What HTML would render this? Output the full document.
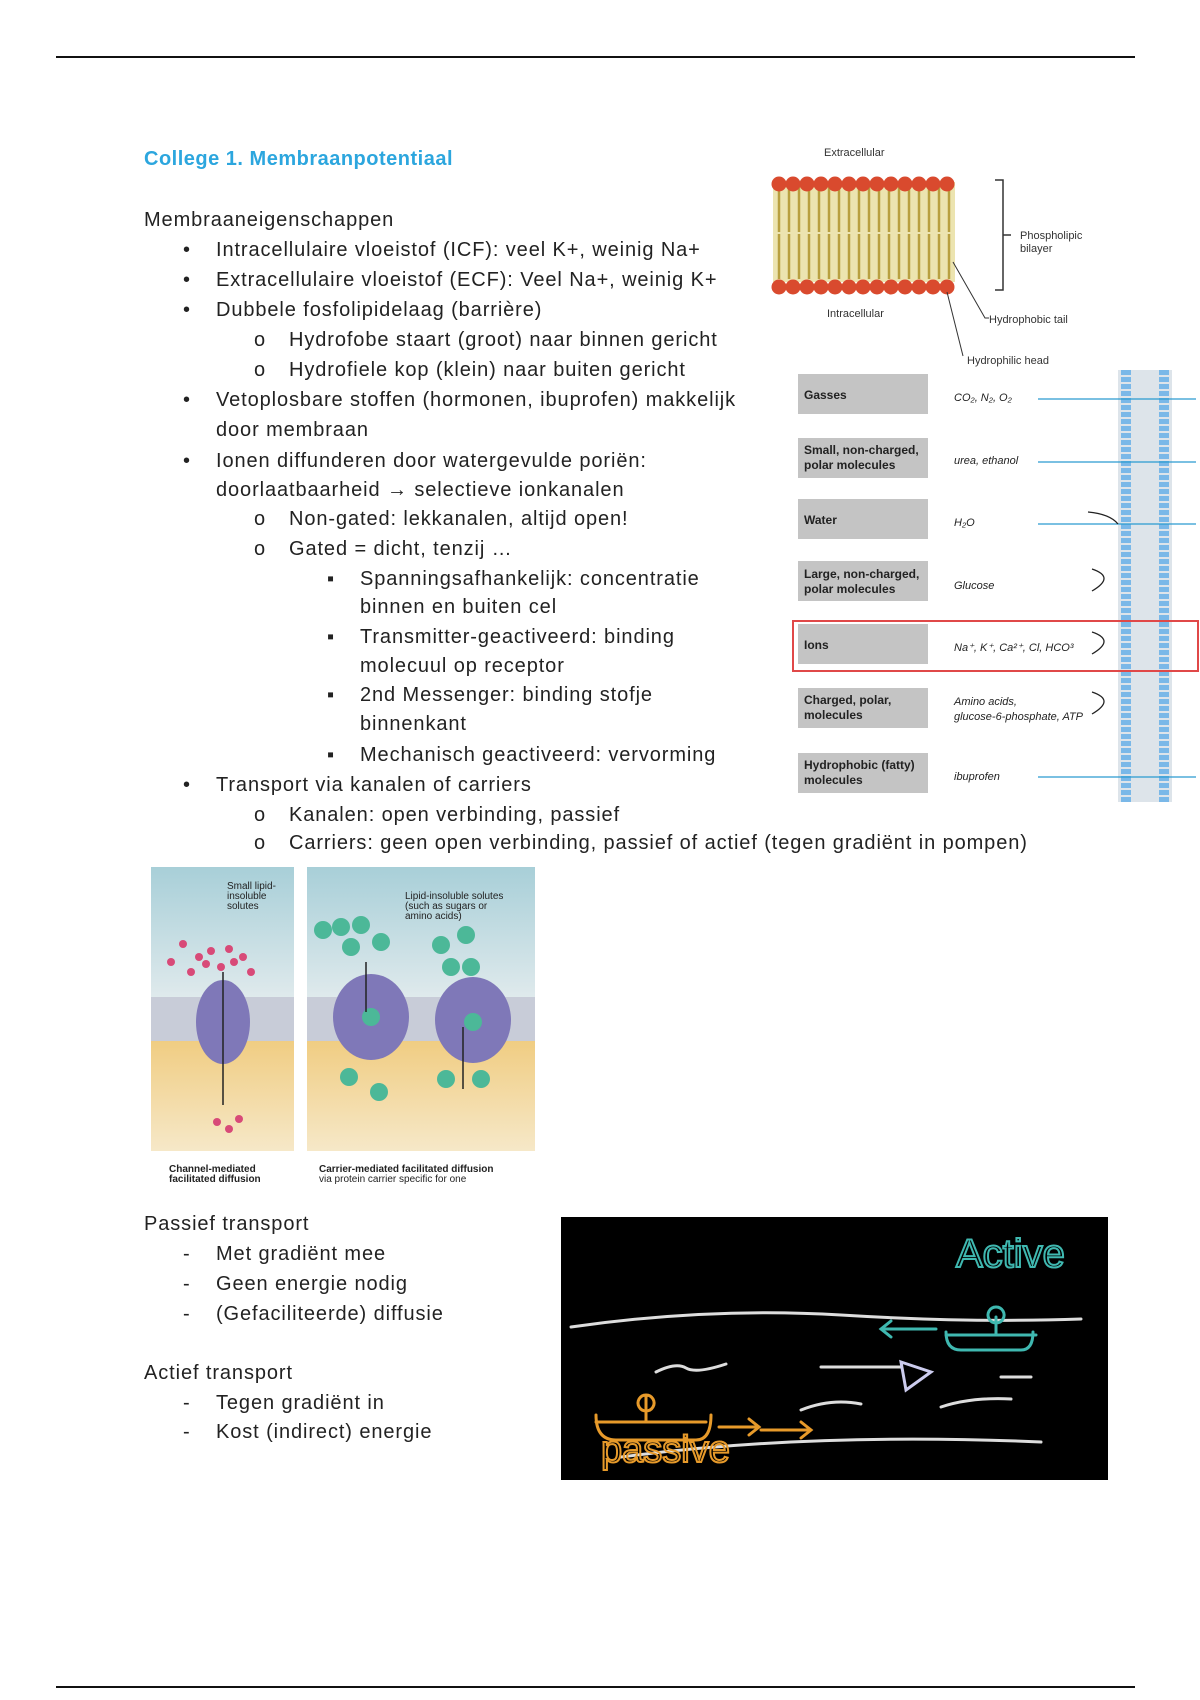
<!DOCTYPE html>
<html><head><meta charset="utf-8"><style>
body{margin:0;background:#fff;width:1200px;height:1700px;position:relative;overflow:hidden;font-family:"Liberation Sans",sans-serif;color:#222}
.t{position:absolute;font-size:20px;letter-spacing:0.9px;white-space:nowrap;line-height:20px;margin-top:2px}
.hr{position:absolute;left:56px;width:1079px;height:2px;background:#111}
</style></head><body>
<div class="hr" style="top:56px"></div>
<div class="hr" style="top:1686px"></div>
<div class="t" style="left:144px;top:147px;color:#2ca6de;font-weight:bold;font-size:20px;letter-spacing:0.5px">College 1. Membraanpotentiaal</div>
<div class="t" style="left:144px;top:208px">Membraaneigenschappen</div>
<div class="t" style="left:183px;top:238px">•</div><div class="t" style="left:216px;top:238px">Intracellulaire vloeistof (ICF): veel K+, weinig Na+</div>
<div class="t" style="left:183px;top:268px">•</div><div class="t" style="left:216px;top:268px">Extracellulaire vloeistof (ECF): Veel Na+, weinig K+</div>
<div class="t" style="left:183px;top:298px">•</div><div class="t" style="left:216px;top:298px">Dubbele fosfolipidelaag (barrière)</div>
<div class="t" style="left:254px;top:328px">o</div><div class="t" style="left:289px;top:328px">Hydrofobe staart (groot) naar binnen gericht</div>
<div class="t" style="left:254px;top:358px">o</div><div class="t" style="left:289px;top:358px">Hydrofiele kop (klein) naar buiten gericht</div>
<div class="t" style="left:183px;top:388px">•</div><div class="t" style="left:216px;top:388px">Vetoplosbare stoffen (hormonen, ibuprofen) makkelijk</div>
<div class="t" style="left:216px;top:418px">door membraan</div>
<div class="t" style="left:183px;top:449px">•</div><div class="t" style="left:216px;top:449px">Ionen diffunderen door watergevulde poriën:</div>
<div class="t" style="left:216px;top:478px">doorlaatbaarheid → selectieve ionkanalen</div>
<div class="t" style="left:254px;top:507px">o</div><div class="t" style="left:289px;top:507px">Non-gated: lekkanalen, altijd open!</div>
<div class="t" style="left:254px;top:537px">o</div><div class="t" style="left:289px;top:537px">Gated = dicht, tenzij …</div>
<div class="t" style="left:327px;top:567px">▪</div><div class="t" style="left:360px;top:567px">Spanningsafhankelijk: concentratie</div>
<div class="t" style="left:360px;top:595px">binnen en buiten cel</div>
<div class="t" style="left:327px;top:625px">▪</div><div class="t" style="left:360px;top:625px">Transmitter-geactiveerd: binding</div>
<div class="t" style="left:360px;top:654px">molecuul op receptor</div>
<div class="t" style="left:327px;top:683px">▪</div><div class="t" style="left:360px;top:683px">2nd Messenger: binding stofje</div>
<div class="t" style="left:360px;top:712px">binnenkant</div>
<div class="t" style="left:327px;top:743px">▪</div><div class="t" style="left:360px;top:743px">Mechanisch geactiveerd: vervorming</div>
<div class="t" style="left:183px;top:773px">•</div><div class="t" style="left:216px;top:773px">Transport via kanalen of carriers</div>
<div class="t" style="left:254px;top:803px">o</div><div class="t" style="left:289px;top:803px">Kanalen: open verbinding, passief</div>
<div class="t" style="left:254px;top:831px">o</div><div class="t" style="left:289px;top:831px">Carriers: geen open verbinding, passief of actief (tegen gradiënt in pompen)</div>

<div class="t" style="left:144px;top:1212px">Passief transport</div>
<div class="t" style="left:183px;top:1242px">-</div><div class="t" style="left:216px;top:1242px">Met gradiënt mee</div>
<div class="t" style="left:183px;top:1272px">-</div><div class="t" style="left:216px;top:1272px">Geen energie nodig</div>
<div class="t" style="left:183px;top:1302px">-</div><div class="t" style="left:216px;top:1302px">(Gefaciliteerde) diffusie</div>
<div class="t" style="left:144px;top:1361px">Actief transport</div>
<div class="t" style="left:183px;top:1391px">-</div><div class="t" style="left:216px;top:1391px">Tegen gradiënt in</div>
<div class="t" style="left:183px;top:1420px">-</div><div class="t" style="left:216px;top:1420px">Kost (indirect) energie</div>

<!-- bilayer -->
<svg style="position:absolute;left:767px;top:142px" width="340" height="225" font-family="Liberation Sans" font-size="11" fill="#333">
<text x="57" y="14">Extracellular</text>
<rect x="6" y="40" width="182" height="100" fill="#ece4b0"/>
<g stroke="#b8a040" stroke-width="2.5" fill="none">
<path d="M12 45 v45 M22 45 v45 M32 45 v45 M42 45 v45 M52 45 v45 M62 45 v45 M72 45 v45 M82 45 v45 M92 45 v45 M102 45 v45 M112 45 v45 M122 45 v45 M132 45 v45 M142 45 v45 M152 45 v45 M162 45 v45 M172 45 v45 M182 45 v45"/>
<path d="M12 92 v45 M22 92 v45 M32 92 v45 M42 92 v45 M52 92 v45 M62 92 v45 M72 92 v45 M82 92 v45 M92 92 v45 M102 92 v45 M112 92 v45 M122 92 v45 M132 92 v45 M142 92 v45 M152 92 v45 M162 92 v45 M172 92 v45 M182 92 v45"/>
</g>
<g fill="#d94a2e">
<circle cx="12" cy="42" r="7.5"/><circle cx="26" cy="42" r="7.5"/><circle cx="40" cy="42" r="7.5"/><circle cx="54" cy="42" r="7.5"/><circle cx="68" cy="42" r="7.5"/><circle cx="82" cy="42" r="7.5"/><circle cx="96" cy="42" r="7.5"/><circle cx="110" cy="42" r="7.5"/><circle cx="124" cy="42" r="7.5"/><circle cx="138" cy="42" r="7.5"/><circle cx="152" cy="42" r="7.5"/><circle cx="166" cy="42" r="7.5"/><circle cx="180" cy="42" r="7.5"/>
<circle cx="12" cy="145" r="7.5"/><circle cx="26" cy="145" r="7.5"/><circle cx="40" cy="145" r="7.5"/><circle cx="54" cy="145" r="7.5"/><circle cx="68" cy="145" r="7.5"/><circle cx="82" cy="145" r="7.5"/><circle cx="96" cy="145" r="7.5"/><circle cx="110" cy="145" r="7.5"/><circle cx="124" cy="145" r="7.5"/><circle cx="138" cy="145" r="7.5"/><circle cx="152" cy="145" r="7.5"/><circle cx="166" cy="145" r="7.5"/><circle cx="180" cy="145" r="7.5"/>
</g>
<path d="M228 38 h8 v110 h-8 M236 93 h8" stroke="#333" fill="none" stroke-width="1.5"/>
<text x="60" y="175">Intracellular</text>
<text x="253" y="97">Phospholipic</text><text x="253" y="110">bilayer</text>
<path d="M186 120 L218 176 h4 M180 150 L196 214" stroke="#333" fill="none"/>
<text x="222" y="181">Hydrophobic tail</text>
<text x="200" y="222">Hydrophilic head</text>
</svg>

<!-- permeability table -->
<svg style="position:absolute;left:788px;top:366px" width="412" height="440" font-family="Liberation Sans" font-size="12" fill="#222">
<g fill="#c4c4c4">
<rect x="10" y="8" width="130" height="40"/><rect x="10" y="72" width="130" height="40"/><rect x="10" y="133" width="130" height="40"/><rect x="10" y="195" width="130" height="40"/><rect x="10" y="258" width="130" height="40"/><rect x="10" y="322" width="130" height="40"/><rect x="10" y="387" width="130" height="40"/>
</g>
<g font-weight="bold" font-size="12">
<text x="16" y="33">Gasses</text>
<text x="16" y="88">Small, non-charged,</text><text x="16" y="103">polar molecules</text>
<text x="16" y="158">Water</text>
<text x="16" y="212">Large, non-charged,</text><text x="16" y="227">polar molecules</text>
<text x="16" y="283">Ions</text>
<text x="16" y="338">Charged, polar,</text><text x="16" y="353">molecules</text>
<text x="16" y="403">Hydrophobic (fatty)</text><text x="16" y="418">molecules</text>
</g>
<g font-style="italic" font-size="11">
<text x="166" y="35">CO₂, N₂, O₂</text><text x="166" y="98">urea, ethanol</text><text x="166" y="160">H₂O</text><text x="166" y="223">Glucose</text>
<text x="166" y="285">Na⁺, K⁺, Ca²⁺, Cl, HCO³</text><text x="166" y="339">Amino acids,</text><text x="166" y="354">glucose-6-phosphate, ATP</text><text x="166" y="414">ibuprofen</text>
</g>
<rect x="330" y="4" width="54" height="432" fill="#dde4ea"/>
<g stroke="#7ab8e8" stroke-dasharray="5 2">
<line x1="338" y1="4" x2="338" y2="436" stroke-width="10"/><line x1="376" y1="4" x2="376" y2="436" stroke-width="10"/>
</g>
<g stroke="#2a9ad0" stroke-width="1.3">
<line x1="250" y1="33" x2="408" y2="33"/><line x1="250" y1="96" x2="408" y2="96"/><line x1="250" y1="158" x2="408" y2="158"/><line x1="250" y1="411" x2="408" y2="411"/>
</g>
<g stroke="#222" fill="none" stroke-width="1.3">
<path d="M300 146 q22 2 30 12"/><path d="M304 203 q24 8 0 22"/><path d="M304 266 q24 8 0 22"/><path d="M304 326 q24 8 0 22"/>
</g>
<rect x="5" y="255" width="405" height="50" fill="none" stroke="#e04848" stroke-width="2"/>
</svg>

<!-- channel / carrier -->
<svg style="position:absolute;left:151px;top:867px" width="390" height="330" font-family="Liberation Sans" font-size="10" fill="#222">
<defs><linearGradient id="g1" x1="0" y1="0" x2="0" y2="1"><stop offset="0" stop-color="#a8cfd8"/><stop offset="0.5" stop-color="#e4ecee"/><stop offset="0.6" stop-color="#f0cc80"/><stop offset="1" stop-color="#f6e8c8"/></linearGradient></defs>
<rect x="0" y="0" width="143" height="284" fill="url(#g1)"/>
<rect x="156" y="0" width="228" height="284" fill="url(#g1)"/>
<rect x="0" y="130" width="384" height="44" fill="#c8ccd8"/><rect x="143" y="120" width="13" height="60" fill="#fff"/>
<ellipse cx="72" cy="155" rx="27" ry="42" fill="#7f78b8"/>
<ellipse cx="220" cy="150" rx="38" ry="43" fill="#7f78b8"/><ellipse cx="322" cy="153" rx="38" ry="43" fill="#7f78b8"/>
<g fill="#d84a78"><circle cx="32" cy="77" r="4"/><circle cx="48" cy="90" r="4"/><circle cx="60" cy="84" r="4"/><circle cx="78" cy="82" r="4"/><circle cx="92" cy="90" r="4"/><circle cx="20" cy="95" r="4"/><circle cx="40" cy="105" r="4"/><circle cx="70" cy="100" r="4"/><circle cx="100" cy="105" r="4"/><circle cx="55" cy="97" r="4"/><circle cx="83" cy="95" r="4"/><circle cx="66" cy="255" r="4"/><circle cx="78" cy="262" r="4"/><circle cx="88" cy="252" r="4"/></g>
<g fill="#4cb898"><circle cx="172" cy="63" r="9"/><circle cx="190" cy="60" r="9"/><circle cx="210" cy="58" r="9"/><circle cx="200" cy="80" r="9"/><circle cx="230" cy="75" r="9"/><circle cx="290" cy="78" r="9"/><circle cx="315" cy="68" r="9"/><circle cx="300" cy="100" r="9"/><circle cx="320" cy="100" r="9"/><circle cx="220" cy="150" r="9"/><circle cx="322" cy="155" r="9"/><circle cx="198" cy="210" r="9"/><circle cx="228" cy="225" r="9"/><circle cx="295" cy="212" r="9"/><circle cx="330" cy="212" r="9"/></g>
<g stroke="#222" stroke-width="1.5"><line x1="72" y1="105" x2="72" y2="238"/><line x1="312" y1="160" x2="312" y2="222"/><line x1="215" y1="95" x2="215" y2="145"/></g>
<text x="76" y="22">Small lipid-</text><text x="76" y="32">insoluble</text><text x="76" y="42">solutes</text>
<text x="254" y="32">Lipid-insoluble solutes</text><text x="254" y="42">(such as sugars or</text><text x="254" y="52">amino acids)</text>
<g font-weight="bold"><text x="18" y="305">Channel-mediated</text><text x="18" y="315">facilitated diffusion</text><text x="168" y="305">Carrier-mediated facilitated diffusion</text></g>
<text x="168" y="315">via protein carrier specific for one</text>
</svg>

<!-- blackboard -->
<svg style="position:absolute;left:561px;top:1217px" width="547" height="263">
<rect width="547" height="263" fill="#000"/>
<g fill="none" stroke-linecap="round" stroke-width="3">
<path d="M10 110 Q150 90 280 98 T520 102" stroke="#ddd"/>
<path d="M60 240 Q250 215 480 225" stroke="#ddd"/>
<path d="M95 155 q20-10 30-4 t40-4" stroke="#ddd"/><path d="M260 150 h80" stroke="#ddd"/><path d="M240 193 q30-12 60-6" stroke="#ddd"/><path d="M380 190 q30-10 70-8" stroke="#ddd"/><path d="M440 160 h30" stroke="#ddd"/>
<path d="M340 145 l30 10 l-25 18 z" stroke="#cce" />
<path d="M35 198 q0 25 20 25 h80 q15 0 15-25 M35 205 h110 M85 205 v-25 M85 178 a8 8 0 1 0 0.1 0" stroke="#e79a2a"/>
<path d="M158 210 h40 m-10-8 l10 8 l-10 8 M200 213 h50 m-10-8 l10 8 l-10 8" stroke="#e79a2a"/>
<path d="M385 115 q0 18 15 18 h60 q12 0 12-18 M385 118 h90 M435 118 v-18 M435 90 a8 8 0 1 0 0.1 0" stroke="#3fb8b0"/>
<path d="M375 112 h-55 m10-8 l-10 8 l10 8" stroke="#3fb8b0"/>
</g>
<text x="395" y="50" font-family="Liberation Sans" font-size="40" fill="none" stroke="#3fb8b0" stroke-width="2">Active</text>
<text x="40" y="245" font-family="Liberation Sans" font-size="38" fill="none" stroke="#e79a2a" stroke-width="2">passive</text>
</svg>
</body></html>
